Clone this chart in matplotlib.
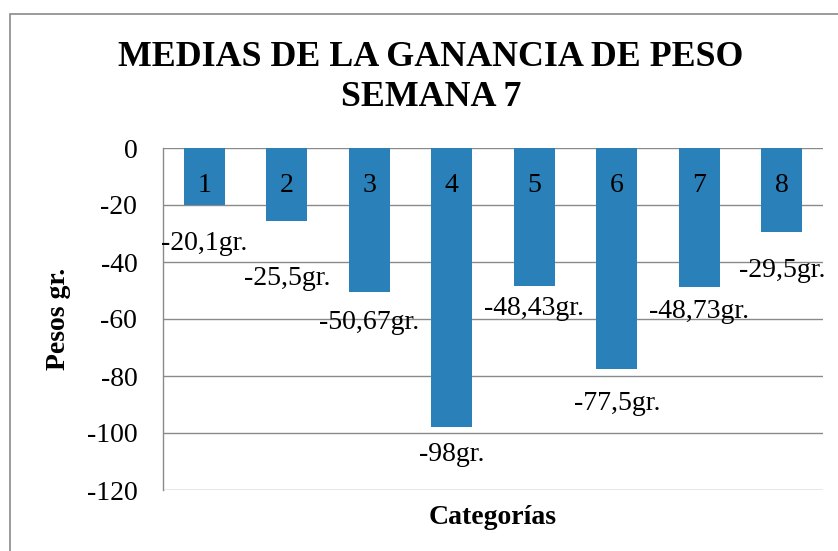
import matplotlib
matplotlib.use('Agg')
import matplotlib.pyplot as plt
from matplotlib.patches import Rectangle

categorias = ['1', '2', '3', '4', '5', '6', '7', '8']
medias = [-20.1, -25.5, -50.67, -98, -48.43, -77.5, -48.73, -29.5]
etiquetas = ['-20,1gr.', '-25,5gr.', '-50,67gr.', '-98gr.', '-48,43gr.', '-77,5gr.', '-48,73gr.', '-29,5gr.']
yticks = [0, -20, -40, -60, -80, -100, -120]

# desplazamiento vertical de cada etiqueta (px bajo el final de la barra), como en el original
desp = [38, 58, 30, 27, 22, 35, 25, 38]

plt.rcParams['font.family'] = 'serif'
plt.rcParams['font.serif'] = ['Liberation Serif', 'Times New Roman', 'DejaVu Serif']
azul = '#2a80b9'
gris = '#8a8a8a'
fs = 20

fig = plt.figure(figsize=(8.38, 5.51), dpi=100)
ax = fig.add_axes([163/838, 61/551, 660/838, 342/551])

x = range(len(categorias))
ax.bar(x, medias, width=0.5, color=azul, zorder=3)
ax.set_xlim(-0.5, len(categorias) - 0.5)
ax.set_ylim(-120, 0)
ax.set_yticks(yticks)
ax.set_yticklabels([str(v) for v in yticks], fontsize=fs)
ax.tick_params(axis='y', length=0, pad=18.5)
ax.set_xticks([])
ax.yaxis.grid(True, color=gris, linewidth=1.0, zorder=0)
for s in ['top', 'right', 'bottom']:
    ax.spines[s].set_visible(False)
ax.spines['left'].set_color(gris)
ax.spines['left'].set_linewidth(1.0)

px = 72 / 100
for i, (c, v, t) in enumerate(zip(categorias, medias, etiquetas)):
    ax.annotate(c, (i, 0), xytext=(0, -38 * px), textcoords='offset points',
                ha='center', va='center', fontsize=fs, zorder=4)
    ax.annotate(t, (i, v), xytext=(0, -desp[i] * px), textcoords='offset points',
                ha='center', va='center', fontsize=fs, zorder=4)

ax.set_ylabel('Pesos gr.', fontsize=fs, fontweight='bold', labelpad=11)
ax.set_xlabel('Categorías', fontsize=fs, fontweight='bold', labelpad=11)

fig.text(431/838, 1 - 58/551, 'MEDIAS DE LA GANANCIA DE PESO', ha='center', va='center',
         fontsize=25.8, fontweight='bold')
fig.text(431/838, 1 - 98/551, 'SEMANA 7', ha='center', va='center',
         fontsize=25.8, fontweight='bold')

fig.patches.append(Rectangle((10/838, -0.1), 1.2, 1 - 14/551 + 0.1, transform=fig.transFigure,
                             fill=False, edgecolor=gris, linewidth=1.2))

fig.savefig('out.png', dpi=100)
